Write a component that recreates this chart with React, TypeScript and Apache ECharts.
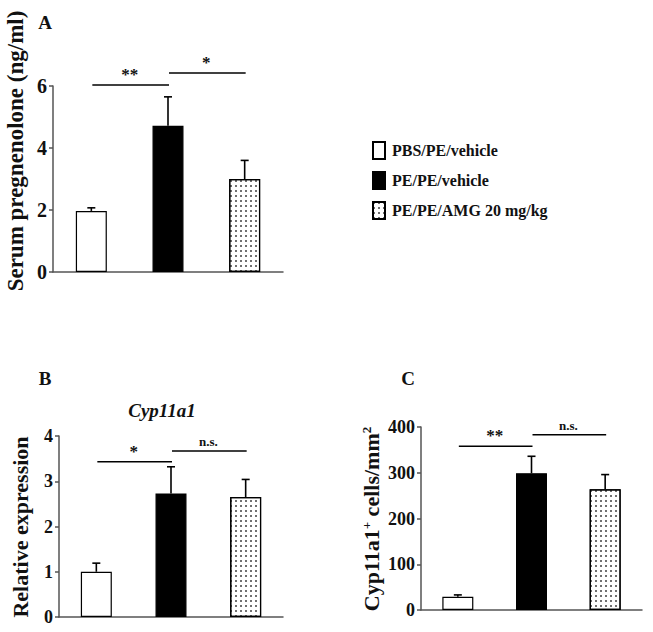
import React, { useEffect, useRef } from "react";
import * as echarts from "echarts";

const groups = ["PBS/PE/vehicle", "PE/PE/vehicle", "PE/PE/AMG 20 mg/kg"];

// Panel A: serum pregnenolone (ng/ml)
const aValues = [1.97, 4.72, 3.0];
const aErrors = [0.1, 0.93, 0.6];
const aSig: [number, number, number, string][] = [
  [0, 1, 6.03, "**"],
  [1, 2, 6.42, "*"],
];

// Panel B: Cyp11a1 relative expression
const bValues = [1.0, 2.73, 2.65];
const bErrors = [0.19, 0.59, 0.39];
const bSig: [number, number, number, string][] = [
  [0, 1, 3.43, "*"],
  [1, 2, 3.67, "n.s."],
];

// Panel C: Cyp11a1+ cells/mm2
const cValues = [29, 299, 264];
const cErrors = [4, 37, 32];
const cSig: [number, number, number, string][] = [
  [0, 1, 358, "**"],
  [1, 2, 383, "n.s."],
];

const yMaxes = [6, 4, 400];
const yIntervals = [2, 1, 100];

const FONT = "'Liberation Serif', 'Times New Roman', serif";

const groupStyles: any[] = [
  { color: "#ffffff", borderColor: "#000", borderWidth: 1.2 },
  { color: "#000000", borderColor: "#000", borderWidth: 1.2 },
  {
    color: "#ffffff",
    borderColor: "#000",
    borderWidth: 1.2,
    decal: {
      symbol: "rect",
      symbolSize: 0.75,
      dashArrayX: [2, 3],
      dashArrayY: [2, 3],
      color: "#000",
      backgroundColor: "#ffffff",
    },
  },
];

export default function App() {
  const ref = useRef<HTMLDivElement>(null);
  useEffect(() => {
    if (!ref.current) return;
    const chart = echarts.init(ref.current, null, { renderer: "svg" });

    const panels = [
      { values: aValues, errors: aErrors, sig: aSig },
      { values: bValues, errors: bErrors, sig: bSig },
      { values: cValues, errors: cErrors, sig: cSig },
    ];

    const grids = [
      { left: 53, top: 86, width: 230, height: 186 },
      { left: 59, top: 436, width: 224, height: 181 },
      { left: 421, top: 427, width: 221, height: 183 },
    ].map((g) => ({ ...g, outerBoundsMode: "none", containLabel: false }));

    const xAxes = grids.map((_, gi) => ({
      type: "category",
      gridIndex: gi,
      data: groups,
      axisLine: { lineStyle: { color: "#555", width: 1.5 } },
      axisTick: { show: false },
      axisLabel: { show: false },
    }));

    const yAxes = grids.map((_, gi) => ({
      type: "value",
      gridIndex: gi,
      min: 0,
      max: yMaxes[gi],
      interval: yIntervals[gi],
      splitLine: { show: false },
      axisLine: { show: true, lineStyle: { color: "#555", width: 1.5 } },
      axisTick: { show: true, length: 4, lineStyle: { color: "#555", width: 1.5 } },
      axisLabel: {
        fontFamily: FONT,
        fontWeight: "bold",
        fontSize: gi === 0 ? 20 : 18,
        color: "#111",
        margin: 6,
      },
    }));

    const series: any[] = [];
    panels.forEach((p, pi) => {
      groups.forEach((g, gi) => {
        series.push({
          type: "bar",
          name: g,
          xAxisIndex: pi,
          yAxisIndex: pi,
          barWidth: 31,
          barGap: "-100%",
          itemStyle: groupStyles[gi],
          data: p.values.map((v, i) => (i === gi ? v : "-")),
          z: 2,
        });
      });
      series.push({
        type: "custom",
        xAxisIndex: pi,
        yAxisIndex: pi,
        z: 3,
        encode: { x: 0, y: 1 },
        data: p.values.map((v, i) => [i, v, p.errors[i]]),
        renderItem: (params: any, api: any) => {
          const i = api.value(0);
          const v = api.value(1);
          const e = api.value(2);
          const b = api.coord([i, v]);
          const t = api.coord([i, v + e]);
          const st = { stroke: "#000", lineWidth: 1.6 };
          return {
            type: "group",
            children: [
              { type: "line", shape: { x1: b[0], y1: b[1], x2: t[0], y2: t[1] }, style: st },
              { type: "line", shape: { x1: t[0] - 4, y1: t[1], x2: t[0] + 4, y2: t[1] }, style: st },
            ],
          };
        },
      });
      series.push({
        type: "custom",
        xAxisIndex: pi,
        yAxisIndex: pi,
        z: 3,
        clip: false,
        encode: { x: 0, y: 2 },
        data: p.sig.map((s) => [s[0], s[1], s[2]]),
        renderItem: (params: any, api: any) => {
          const label = p.sig[params.dataIndex][3];
          const p1 = api.coord([api.value(0), api.value(2)]);
          const p2 = api.coord([api.value(1), api.value(2)]);
          return {
            type: "group",
            children: [
              {
                type: "line",
                shape: { x1: p1[0] + 1, y1: p1[1], x2: p2[0] + 1, y2: p2[1] },
                style: { stroke: "#000", lineWidth: 1.5 },
              },
              {
                type: "text",
                x: (p1[0] + p2[0]) / 2,
                y: p1[1] - (label === "n.s." ? 3 : 2),
                style: {
                  text: label,
                  fontFamily: FONT,
                  fontWeight: "bold",
                  fontSize: label === "n.s." ? 13 : 17,
                  fill: "#111",
                  align: "center",
                  verticalAlign: "bottom",
                },
              },
            ],
          };
        },
      });
    });

    const titleFont = { fontFamily: FONT, fontWeight: "bold", fill: "#111" };

    chart.setOption({
      animation: false,
      backgroundColor: "#ffffff",
      grid: grids,
      xAxis: xAxes,
      yAxis: yAxes,
      legend: {
        data: groups,
        orient: "vertical",
        left: 372,
        top: 141,
        padding: 0,
        itemWidth: 12,
        itemHeight: 17,
        itemGap: 11,
        icon: "rect",
        selectedMode: false,
        textStyle: {
          fontFamily: FONT,
          fontWeight: "bold",
          fontSize: 16,
          color: "#111",
          padding: [0, 0, 0, 2],
        },
      },
      graphic: [
        { type: "text", x: 45, y: 22, style: { ...titleFont, text: "A", fontSize: 19, align: "center", verticalAlign: "middle" } },
        { type: "text", x: 45, y: 378, style: { ...titleFont, text: "B", fontSize: 19, align: "center", verticalAlign: "middle" } },
        { type: "text", x: 408, y: 378, style: { ...titleFont, text: "C", fontSize: 19, align: "center", verticalAlign: "middle" } },
        {
          type: "text",
          x: 162,
          y: 410,
          style: { ...titleFont, text: "Cyp11a1", fontStyle: "italic", fontSize: 19, align: "center", verticalAlign: "middle" },
        },
        {
          type: "text",
          x: 15,
          y: 151,
          rotation: Math.PI / 2,
          style: { ...titleFont, text: "Serum pregnenolone (ng/ml)", fontSize: 23, align: "center", verticalAlign: "middle" },
        },
        {
          type: "text",
          x: 20,
          y: 527,
          rotation: Math.PI / 2,
          style: { ...titleFont, text: "Relative expression", fontSize: 22, align: "center", verticalAlign: "middle" },
        },
        {
          type: "text",
          x: 371,
          y: 519,
          rotation: Math.PI / 2,
          style: {
            ...titleFont,
            text: "{a|Cyp11a1}{s|+}{a| cells/mm}{s|2}",
            align: "center",
            verticalAlign: "middle",
            rich: {
              a: { fontFamily: FONT, fontWeight: "bold", fontSize: 22, fill: "#111" },
              s: { fontFamily: FONT, fontWeight: "bold", fontSize: 13, fill: "#111", verticalAlign: "top" },
            },
          },
        },
      ],
      series,
    });
    return () => chart.dispose();
  }, []);
  return (
    <div
      ref={ref}
      style={{ position: "absolute", left: 0, top: 0, width: 653, height: 632 }}
    />
  );
}
